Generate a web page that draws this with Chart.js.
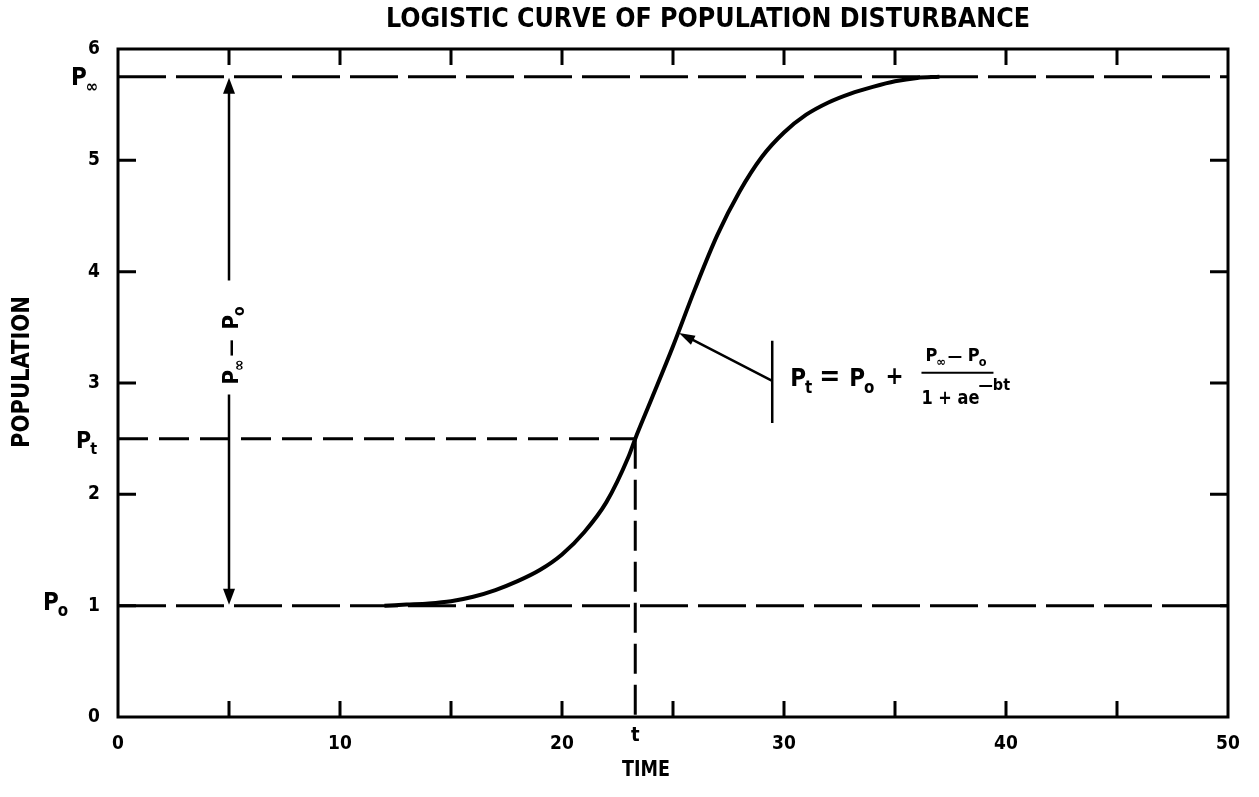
<!DOCTYPE html>
<html>
<head>
<meta charset="utf-8">
<script src="https://cdn.jsdelivr.net/npm/chart.js@4.4.0/dist/chart.umd.min.js"></script>
<style>
    html, body { margin: 0; padding: 0; background: #ffffff; }
    canvas { display: block; }
</style>
</head>
<body>
<canvas id="logistic-chart" width="1259" height="797"></canvas>
<script>
// 그림에서 읽은 로지스틱 곡선 값
const timeValues = [12, 13, 14, 15, 16, 17, 18, 19, 20, 21, 22, 23, 23.3, 24, 25, 26, 27, 28, 29, 30, 31, 32, 33, 34, 35, 36, 37];
const populationValues = [1.00, 1.01, 1.02, 1.04, 1.08, 1.14, 1.22, 1.32, 1.46, 1.66, 1.93, 2.34, 2.50, 2.84, 3.33, 3.85, 4.33, 4.72, 5.03, 5.25, 5.41, 5.52, 5.60, 5.66, 5.71, 5.74, 5.75];

// 기준선 값
const pInfinity = 5.75;
const pZero = 1;
const tValue = 23.3;
const pT = 2.5;
const xRange = [0, 50];
const yRange = [0, 6];
const xTickStep = 10;
const yTickStep = 1;
const xMinorTicks = [5, 10, 15, 20, 25, 30, 35, 40, 45];
const yMinorTicks = [1, 2, 3, 4, 5];

const FONT = "'DejaVu Sans Condensed', 'DejaVu Sans', sans-serif";
const INK = '#000000';

const curvePoints = timeValues.map((t, i) => ({ x: t, y: populationValues[i] }));

function refLine(points, dash) {
    return {
        data: points,
        showLine: true,
        borderColor: INK,
        borderWidth: 3,
        borderDash: dash,
        pointRadius: 0,
        fill: false
    };
}

// 텍스트 그리기 (폭 맞춤)
function drawText(ctx, text, x, y, size, align, maxWidth) {
    ctx.font = `bold ${size}px ${FONT}`;
    ctx.textAlign = align || 'left';
    ctx.textBaseline = 'middle';
    if (maxWidth) {
        ctx.fillText(text, x, y, maxWidth);
    } else {
        ctx.fillText(text, x, y);
    }
}

// P + 아래첨자
function drawSubscripted(ctx, main, sub, x, y, size) {
    drawText(ctx, main, x, y, size, 'left');
    const w = ctx.measureText(main).width;
    drawText(ctx, sub, x + w - 1, y + size * 0.35, size * 0.7, 'left');
    ctx.font = `bold ${size * 0.7}px ${FONT}`;
    return w + ctx.measureText(sub).width;
}

function arrowHead(ctx, tipX, tipY, fromX, fromY, len, half) {
    const ang = Math.atan2(tipY - fromY, tipX - fromX);
    ctx.beginPath();
    ctx.moveTo(tipX, tipY);
    ctx.lineTo(tipX - len * Math.cos(ang) + half * Math.sin(ang), tipY - len * Math.sin(ang) - half * Math.cos(ang));
    ctx.lineTo(tipX - len * Math.cos(ang) - half * Math.sin(ang), tipY - len * Math.sin(ang) + half * Math.cos(ang));
    ctx.closePath();
    ctx.fill();
}

const figurePlugin = {
    id: 'figureAnnotations',
    afterDatasetsDraw(chart) {
        const { ctx, chartArea: area, scales: { x, y } } = chart;
        ctx.save();
        ctx.strokeStyle = INK;
        ctx.fillStyle = INK;
        ctx.lineCap = 'butt';

        // 테두리
        ctx.lineWidth = 3;
        ctx.strokeRect(area.left, area.top, area.right - area.left, area.bottom - area.top);

        // 안쪽 눈금
        ctx.lineWidth = 3;
        ctx.beginPath();
        xMinorTicks.forEach(v => {
            const px = x.getPixelForValue(v);
            ctx.moveTo(px, area.bottom);
            ctx.lineTo(px, area.bottom - 16);
            ctx.moveTo(px, area.top);
            ctx.lineTo(px, area.top + 16);
        });
        yMinorTicks.forEach(v => {
            const py = y.getPixelForValue(v);
            ctx.moveTo(area.left, py);
            ctx.lineTo(area.left + 18, py);
            ctx.moveTo(area.right, py);
            ctx.lineTo(area.right - 18, py);
        });
        ctx.stroke();

        // 제목, 축 제목
        drawText(ctx, 'LOGISTIC CURVE OF POPULATION DISTURBANCE', 708, 20, 26.5, 'center', 646);
        drawText(ctx, 'TIME', 646, 771, 21, 'center', 48);
        ctx.save();
        ctx.translate(22, 372);
        ctx.rotate(-Math.PI / 2);
        drawText(ctx, 'POPULATION', 0, 0, 25, 'center', 152);
        ctx.restore();

        // 왼쪽 기준 라벨
        drawSubscripted(ctx, 'P', '∞', 71, y.getPixelForValue(pInfinity) + 2, 24);
        drawSubscripted(ctx, 'P', 't', 76, y.getPixelForValue(pT) + 3, 23);
        drawSubscripted(ctx, 'P', 'o', 43, y.getPixelForValue(pZero) - 2, 24);
        drawText(ctx, 't', x.getPixelForValue(tValue), area.bottom + 19, 20, 'center');

        // P∞ - P0 양방향 화살표
        const ax = x.getPixelForValue(5);
        const topY = y.getPixelForValue(pInfinity);
        const botY = y.getPixelForValue(pZero);
        const labelMid = y.getPixelForValue(3.4);
        ctx.lineWidth = 2.5;
        ctx.beginPath();
        ctx.moveTo(ax, topY + 10);
        ctx.lineTo(ax, labelMid - 58);
        ctx.moveTo(ax, labelMid + 56);
        ctx.lineTo(ax, botY - 10);
        ctx.stroke();
        arrowHead(ctx, ax, topY + 1, ax, topY + 30, 16, 6);
        arrowHead(ctx, ax, botY - 1, ax, botY - 30, 16, 6);
        ctx.save();
        ctx.translate(ax + 5, labelMid);
        ctx.rotate(-Math.PI / 2);
        let cx = -46;
        cx += drawSubscripted(ctx, 'P', '∞', cx, -2, 22);
        drawText(ctx, '—', cx + 2, -2, 19, 'left');
        cx += 29;
        drawSubscripted(ctx, 'P', 'o', cx, -2, 22);
        ctx.restore();

        // 공식과 지시 화살표
        const barX = x.getPixelForValue(29.47);
        const barTop = y.getPixelForValue(3.38);
        const barBot = y.getPixelForValue(2.64);
        const startY = y.getPixelForValue(3.02);
        const tipX = x.getPixelForValue(25.27);
        const tipY = y.getPixelForValue(3.45);
        ctx.lineWidth = 2.5;
        ctx.beginPath();
        ctx.moveTo(barX, barTop);
        ctx.lineTo(barX, barBot);
        ctx.moveTo(barX, startY);
        ctx.lineTo(tipX + 8, tipY + 4);
        ctx.stroke();
        arrowHead(ctx, tipX, tipY, barX, startY, 16, 5);

        const fy = startY - 1;
        let fx = barX + 18;
        fx += drawSubscripted(ctx, 'P', 't', fx, fy, 24) + 6;
        drawText(ctx, '=', fx, fy - 2, 28, 'left');
        fx += 30;
        fx += drawSubscripted(ctx, 'P', 'o', fx, fy, 24) + 10;
        drawText(ctx, '+', fx, fy - 2, 24, 'left');
        fx += 36;
        // 분수
        const numY = fy - 23;
        const denY = fy + 19;
        let nx = fx + 4;
        nx += drawSubscripted(ctx, 'P', '∞', nx, numY, 18);
        drawText(ctx, '—', nx + 1, numY, 16, 'left');
        nx += 21;
        drawSubscripted(ctx, 'P', 'o', nx, numY, 18);
        ctx.lineWidth = 2;
        ctx.beginPath();
        ctx.moveTo(fx, fy - 7);
        ctx.lineTo(fx + 72, fy - 7);
        ctx.stroke();
        drawText(ctx, '1 + ae', fx, denY, 20, 'left', 58);
        drawText(ctx, '—bt', fx + 57, denY - 13, 16, 'left');

        ctx.restore();
    }
};

new Chart(document.getElementById('logistic-chart'), {
    type: 'scatter',
    data: {
        datasets: [
            {
                data: curvePoints,
                showLine: true,
                borderColor: INK,
                borderWidth: 4,
                pointRadius: 0,
                cubicInterpolationMode: 'monotone',
                fill: false
            },
            refLine([{ x: xRange[0], y: pInfinity }, { x: xRange[1], y: pInfinity }], [48, 10]),
            refLine([{ x: xRange[0], y: pZero }, { x: xRange[1], y: pZero }], [48, 10]),
            refLine([{ x: xRange[0], y: pT }, { x: tValue, y: pT }], [30, 11]),
            refLine([{ x: tValue, y: pT }, { x: tValue, y: yRange[0] }], [30, 11])
        ]
    },
    options: {
        responsive: false,
        animation: false,
        devicePixelRatio: 1,
        layout: { padding: { top: 49, right: 31, left: 0, bottom: 0 } },
        plugins: {
            legend: { display: false },
            tooltip: { enabled: false }
        },
        scales: {
            x: {
                type: 'linear',
                min: xRange[0],
                max: xRange[1],
                afterFit: scale => { scale.height = 80; },
                grid: { display: false },
                border: { display: false },
                ticks: {
                    stepSize: xTickStep,
                    padding: 8,
                    color: INK,
                    font: { family: FONT, size: 19, weight: 'bold' }
                }
            },
            y: {
                type: 'linear',
                min: yRange[0],
                max: yRange[1],
                afterFit: scale => { scale.width = 118; },
                grid: { display: false },
                border: { display: false },
                ticks: {
                    stepSize: yTickStep,
                    padding: 10,
                    color: INK,
                    font: { family: FONT, size: 19, weight: 'bold' }
                }
            }
        }
    },
    plugins: [figurePlugin]
});
</script>
</body>
</html>
